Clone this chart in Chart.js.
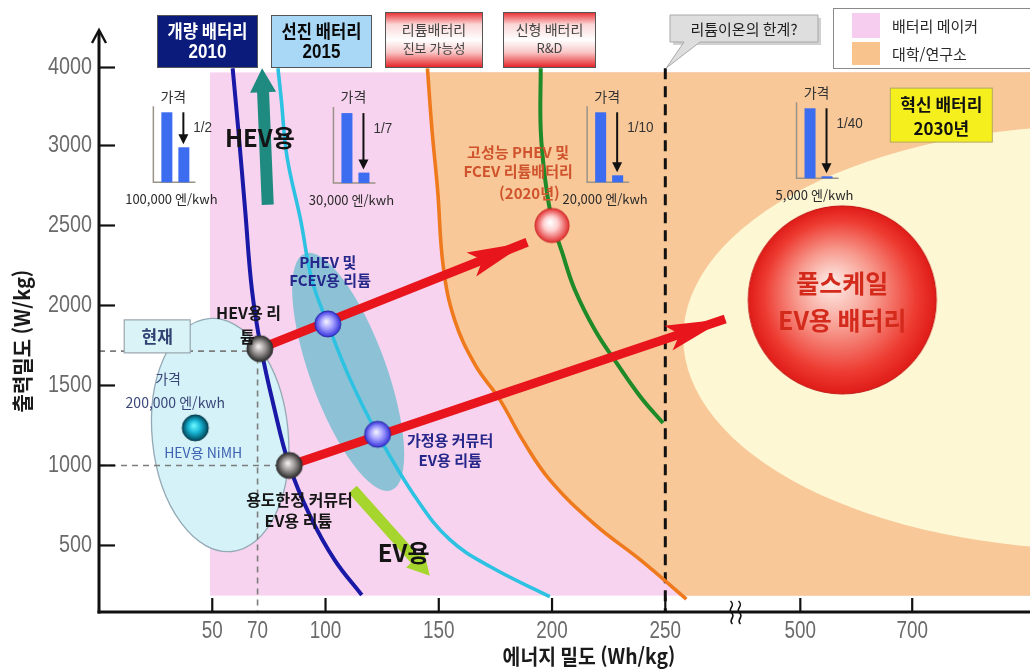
<!DOCTYPE html>
<html lang="ko">
<head>
<meta charset="utf-8">
<title>에너지 밀도 · 출력 밀도 로드맵</title>
<script src="https://cdn.jsdelivr.net/npm/chart.js@4.4.1/dist/chart.umd.min.js"></script>
<style>
  html, body { margin: 0; padding: 0; background: #ffffff; }
  canvas { display: block; }
</style>
</head>
<body>
<canvas id="roadmap" width="1030" height="669"></canvas>
<script>
/* ---------- axes: ticks and broken ranges ---------- */
const X_TICKS = [50, 70, 100, 150, 200, 250, 500, 700];
const X_TICK_MARKS = [50, 100, 150, 200, 250, 500, 700];
const Y_TICKS = [500, 1000, 1500, 2000, 2500, 3000, 4000];
// [real value, axis position] pairs; the axes are compressed past the break
const X_BREAKS = [[0, 0], [250, 250], [500, 309.6], [700, 359]];
const Y_BREAKS = [[0, 0], [3000, 3000], [4000, 3487.5]];
const X_BREAK_AT = 380;
const LIMIT_E = 250;
const X_TITLE = '에너지 밀도 (Wh/kg)';
const Y_TITLE = '출력밀도 (W/kg)';

/* ---------- battery generation curves (Wh/kg, W/kg) ---------- */
const GEN_NAMES = ['개량 배터리 2010', '선진 배터리 2015', '리튬배터리 진보 가능성', '신형 배터리 R&D'];
const GEN2010_E = [59, 61.5, 64.5, 67.5, 71.5, 77, 84, 93, 104, 116];
const GEN2010_P = [3990, 3200, 2600, 2100, 1735, 1380, 1000, 690, 410, 190];
const GEN2015_E = [79, 80.5, 83, 89, 94, 101, 111, 123, 140.5, 155, 173, 199];
const GEN2015_P = [3990, 3580, 2930, 2535, 2160, 1885, 1535, 1195, 785, 535, 365, 180];
const LI_E = [145, 147, 149.5, 152, 157, 166, 177, 187, 199, 219, 239, 289];
const LI_P = [3990, 3200, 2720, 2240, 1910, 1630, 1410, 1160, 910, 630, 410, 165];
const NEW_E = [195, 195, 197, 200, 204.5, 210, 219, 229, 239, 249];
const NEW_P = [3990, 3200, 2785, 2535, 2330, 2100, 1845, 1630, 1430, 1265];

/* ---------- battery cells ---------- */
const CELL_NAMES = ['HEV용 리튬', '용도한정 커뮤터 EV용 리튬', 'PHEV 및 FCEV용 리튬', '가정용 커뮤터 EV용 리튬',
                    'HEV용 NiMH', '고성능 PHEV 및 FCEV 리튬배터리', '풀스케일 EV용 배터리'];
const CELL_E = [71, 84, 101, 123, 42.5, 200, 575];
const CELL_P = [1730, 1000, 1885, 1195, 1235, 2500, 2035];

/* ---------- progress arrows: start cell -> target ---------- */
const PATH_A_E = [71, 189];
const PATH_A_P = [1730, 2395];
const PATH_B_E = [84, 361];
const PATH_B_P = [1000, 1915];
const HEV_TREND_E = [74.5, 72];
const HEV_TREND_P = [2630, 3990];
const EV_TREND_E = [112, 146];
const EV_TREND_P = [850, 310];

/* ---------- reference guides for today's cells ---------- */
const GUIDE_E = [70, 84];
const GUIDE_P = [1715, 1000];

/* ---------- regions ---------- */
const MAKER_ZONE_E = 49;
const ZONE_P = [185, 3940];
const CREAM_CENTER_E = 1036;
const CREAM_CENTER_P = 1800;
const NIMH_CENTER = [53.5, 1190];
const PHEV_CENTER = [110, 1585];
const NOW_TAG = [25.7, 1810];
const TAG_2030 = [752, 3390];

/* ---------- price steps (엔/kWh) ---------- */
const PRICE_NOW = 200000;
const PRICE_NEXT = [100000, 30000, 20000, 5000];
const PRICE_LABELS = ['100,000 엔/kwh', '30,000 엔/kwh', '20,000 엔/kwh', '5,000 엔/kwh'];
const PRICE_RATIOS = ['1/2', '1/7', '1/10', '1/40'];
const PRICE_AT_E = [24, 103.5, 215.5, 493];
const PRICE_AT_P = [2770, 2765, 2770, 2795];

/* ---------- text notes ---------- */
const NOTE_TEXT = ['HEV용', 'HEV용 리', '튬', '가격', '200,000 엔/kwh', 'HEV용 NiMH',
  '용도한정 커뮤터', 'EV용 리튬', 'PHEV 및', 'FCEV용 리튬', '가정용 커뮤터', 'EV용 리튬', 'EV용',
  '고성능 PHEV 및', 'FCEV 리튬배터리', '(2020년)', '풀스케일', 'EV용 배터리'];
const NOTE_E = [71, 66, 65.5, 30.5, 33.7, 46, 88.5, 88, 101, 102, 155, 155, 134.5, 185, 185, 190, 575, 575];
const NOTE_P = [3095, 1955, 1805, 1540, 1395, 1080, 785, 655, 2270, 2155, 1160, 1035, 455, 2960, 2840, 2700, 2140, 1905];
const NOTE_KIND = ['big', 'dark', 'dark', 'slate', 'slate', 'nimh', 'dark', 'dark', 'navy', 'navy', 'navy', 'navy', 'big',
  'rust', 'rust', 'rust', 'red', 'red'];

/* ---------- styles ---------- */
const KR = "'Noto Sans CJK KR', 'Noto Sans CJK JP', sans-serif";
const NUM = "'Liberation Sans', Arial, sans-serif";
const NOTE_STYLE = {
  big:   { font: `bold 24px ${KR}`, color: '#141414' },
  dark:  { font: `bold 16px ${KR}`, color: '#161616' },
  slate: { font: `14px ${KR}`, color: '#3a4679' },
  nimh:  { font: `14px ${KR}`, color: '#3d62b2' },
  navy:  { font: `bold 15px ${KR}`, color: '#25278a' },
  rust:  { font: `bold 15px ${KR}`, color: '#cf532c' },
  red:   { font: `bold 25px ${KR}`, color: '#d42a1c' }
};
const COL = {
  pink: '#f8d3ef', orange: '#f9c898', cream: '#fdf7d4',
  nimh: '#d5f2f8', phev: 'rgba(110,190,206,0.78)',
  arrowRed: '#e8161c', teal: '#1f8a80', lime: '#a6d52e', bar: '#3c6cf0'
};
// plot frame inside the 1030 x 669 canvas
const FRAME = { left: 99, top: 30, right: 0, bottom: 57 };

/* ---------- broken linear scale ---------- */
function toAxis(breaks, v) {
  let i = 1;
  while (i < breaks.length - 1 && v > breaks[i][0]) i++;
  const [a0, b0] = breaks[i - 1], [a1, b1] = breaks[i];
  return b0 + (v - a0) * (b1 - b0) / (a1 - a0);
}
function fromAxis(breaks, u) {
  let i = 1;
  while (i < breaks.length - 1 && u > breaks[i][1]) i++;
  const [a0, b0] = breaks[i - 1], [a1, b1] = breaks[i];
  return a0 + (u - b0) * (a1 - a0) / (b1 - b0);
}
class BrokenScale extends Chart.LinearScale {
  static id = 'broken';
  static defaults = Chart.LinearScale.defaults;
  _breaks() { return this.axis === 'x' ? X_BREAKS : Y_BREAKS; }
  getPixelForValue(value) { return super.getPixelForValue(toAxis(this._breaks(), value)); }
  getValueForPixel(pixel) { return fromAxis(this._breaks(), super.getValueForPixel(pixel)); }
}
Chart.register(BrokenScale);

/* ---------- shaded balls used as point styles ---------- */
function ball(r, stops, edge) {
  const s = Math.ceil(2 * r + 4), c = document.createElement('canvas');
  c.width = c.height = s;
  const g = c.getContext('2d'), cx = s / 2, cy = s / 2;
  const grad = g.createRadialGradient(cx - r * 0.12, cy - r * 0.18, r * 0.04, cx, cy, r);
  stops.forEach(([o, col]) => grad.addColorStop(o, col));
  g.fillStyle = grad;
  g.beginPath(); g.arc(cx, cy, r, 0, Math.PI * 2); g.fill();
  if (edge) { g.strokeStyle = edge; g.lineWidth = 1; g.stroke(); }
  return c;
}
const BALL_GRAY = ball(13, [[0, '#f2eeee'], [0.45, '#a09a9a'], [1, '#2a2a2a']], '#333');
const BALL_VIOLET = ball(13, [[0, '#f2f0ff'], [0.45, '#a6a2ff'], [1, '#3632dc']], '#2a2aa0');
const BALL_TEAL = ball(13, [[0, '#6af6ff'], [0.45, '#1ab8d8'], [1, '#00465a']], '#003848');
const BALL_PINK = ball(17, [[0, '#ffffff'], [0.4, '#ffd0d0'], [1, '#e23030']], '#c82828');
const BALL_RED = ball(94, [[0, '#fde8e2'], [0.4, '#f89a8e'], [0.8, '#ee3c32'], [1, '#e01c18']], '#c01010');
const CELL_STYLE = [BALL_GRAY, BALL_GRAY, BALL_VIOLET, BALL_VIOLET, BALL_TEAL, BALL_PINK, BALL_RED];
const CELL_RADIUS = [13, 13, 13, 13, 13, 17, 94];

const zip = (xs, ys) => xs.map((x, i) => ({ x, y: ys[i] }));

/* ---------- drawing helpers ---------- */
function fatArrow(ctx, x1, y1, x2, y2, shaft, headLen, headHalf, color) {
  const a = Math.atan2(y2 - y1, x2 - x1), len = Math.hypot(x2 - x1, y2 - y1);
  ctx.save();
  ctx.translate(x1, y1); ctx.rotate(a);
  ctx.fillStyle = color;
  ctx.beginPath();
  ctx.moveTo(0, -shaft / 2); ctx.lineTo(len - headLen, -shaft / 2); ctx.lineTo(len - headLen, -headHalf);
  ctx.lineTo(len, 0);
  ctx.lineTo(len - headLen, headHalf); ctx.lineTo(len - headLen, shaft / 2); ctx.lineTo(0, shaft / 2);
  ctx.closePath(); ctx.fill();
  ctx.restore();
}
function notchedHead(ctx, xs, ys, xt, yt, len, half, notch, color) {
  const a = Math.atan2(yt - ys, xt - xs);
  ctx.save();
  ctx.translate(xt, yt); ctx.rotate(a);
  ctx.fillStyle = color;
  ctx.beginPath();
  ctx.moveTo(0, 0); ctx.lineTo(-len, -half); ctx.lineTo(-len + notch, 0); ctx.lineTo(-len, half);
  ctx.closePath(); ctx.fill();
  ctx.restore();
}
function text(ctx, s, x, y, font, color, align, squeeze) {
  ctx.save();
  ctx.font = font; ctx.fillStyle = color;
  ctx.textAlign = align || 'center'; ctx.textBaseline = 'middle';
  ctx.translate(x, y);
  if (squeeze) ctx.scale(squeeze, 1);
  ctx.fillText(s, 0, 0);
  ctx.restore();
}

/* ---------- plugin: regions, guides, notes, frame ---------- */
const roadmapPlugin = {
  id: 'roadmap',
  beforeDatasetsDraw(chart) {
    const { ctx, chartArea: ca, scales: { x, y } } = chart;
    const X = v => x.getPixelForValue(v), Y = v => y.getPixelForValue(v);
    const zl = X(MAKER_ZONE_E), zt = Y(ZONE_P[1]), zb = Y(ZONE_P[0]);

    ctx.save();
    ctx.beginPath(); ctx.rect(zl, zt, ca.right - zl, zb - zt); ctx.clip();
    // battery makers
    ctx.fillStyle = COL.pink;
    ctx.fillRect(zl, zt, ca.right - zl, zb - zt);
    // universities / institutes: right of the lithium curve
    const li = chart.getDatasetMeta(chart.data.datasets.findIndex(d => d.zoneEdge));
    const line = li.dataset, pts = li.data;
    ctx.beginPath();
    let ok = false;
    try {
      if (line.updateControlPoints) line.updateControlPoints(ca, 'x');
      line.path(ctx); ok = true;
    } catch (e) { ok = false; }
    if (!ok) { ctx.beginPath(); pts.forEach((p, i) => i ? ctx.lineTo(p.x, p.y) : ctx.moveTo(p.x, p.y)); }
    const last = pts[pts.length - 1], first = pts[0];
    ctx.lineTo(ca.right + 20, last.y + 20);
    ctx.lineTo(ca.right + 20, first.y - 20);
    ctx.lineTo(first.x, first.y - 20);
    ctx.closePath();
    ctx.fillStyle = COL.orange; ctx.fill();
    // innovation zone
    ctx.beginPath();
    ctx.ellipse(X(CREAM_CENTER_E), Y(CREAM_CENTER_P), 417, 212, 0, 0, Math.PI * 2);
    ctx.fillStyle = COL.cream; ctx.fill();
    ctx.restore();

    // NiMH cloud
    ctx.save();
    ctx.beginPath();
    ctx.ellipse(X(NIMH_CENTER[0]), Y(NIMH_CENTER[1]), 68, 117, -0.1, 0, Math.PI * 2);
    ctx.fillStyle = COL.nimh; ctx.fill();
    ctx.strokeStyle = '#93a9b6'; ctx.lineWidth = 1.3; ctx.stroke();
    // PHEV / FCEV cloud
    ctx.beginPath();
    ctx.ellipse(X(PHEV_CENTER[0]), Y(PHEV_CENTER[1]), 38, 126, -0.35, 0, Math.PI * 2);
    ctx.fillStyle = COL.phev; ctx.fill();
    ctx.restore();

    // guides to today's cells
    ctx.save();
    ctx.strokeStyle = '#7d7d7d'; ctx.lineWidth = 1.6; ctx.setLineDash([6, 5]);
    ctx.beginPath();
    ctx.moveTo(ca.left, Y(GUIDE_P[0])); ctx.lineTo(X(GUIDE_E[0]), Y(GUIDE_P[0]));
    ctx.lineTo(X(GUIDE_E[0]), ca.bottom);
    ctx.moveTo(ca.left, Y(GUIDE_P[1])); ctx.lineTo(X(GUIDE_E[1]), Y(GUIDE_P[1]));
    ctx.stroke();
    // lithium-ion limit
    ctx.strokeStyle = '#111'; ctx.lineWidth = 3; ctx.setLineDash([11, 7]);
    ctx.beginPath(); ctx.moveTo(X(LIMIT_E), Y(3990)); ctx.lineTo(X(LIMIT_E), ca.bottom); ctx.stroke();
    ctx.restore();

    // "현재" tag
    const hx = X(NOW_TAG[0]), hy = Y(NOW_TAG[1]);
    ctx.save();
    ctx.fillStyle = '#d9f3f6'; ctx.strokeStyle = '#9aa6ae'; ctx.lineWidth = 1.2;
    ctx.fillRect(hx - 33, hy - 16, 66, 33); ctx.strokeRect(hx - 33, hy - 16, 66, 33);
    ctx.restore();
    text(ctx, '현재', hx, hy + 1, `bold 17px ${KR}`, '#2f4373');

    // trend arrows
    fatArrow(ctx, X(HEV_TREND_E[0]), Y(HEV_TREND_P[0]), X(HEV_TREND_E[1]), Y(HEV_TREND_P[1]), 12, 24, 13, COL.teal);
    fatArrow(ctx, X(EV_TREND_E[0]), Y(EV_TREND_P[0]), X(EV_TREND_E[1]), Y(EV_TREND_P[1]), 11, 22, 12, COL.lime);
  },

  afterDatasetDraw(chart, args) {
    const ds = chart.data.datasets[args.index];
    if (!ds.arrowHead) return;
    const p = args.meta.data;
    notchedHead(chart.ctx, p[0].x, p[0].y, p[1].x, p[1].y, 60, 13, 12, COL.arrowRed);
  },

  afterDatasetsDraw(chart) {
    const { ctx, scales: { x, y } } = chart;
    const X = v => x.getPixelForValue(v), Y = v => y.getPixelForValue(v);
    ctx.save();

    // price steps
    PRICE_NEXT.forEach((price, i) => {
      const x0 = X(PRICE_AT_E[i]), y0 = Y(PRICE_AT_P[i]), H = 70;
      const h1 = H, h2 = Math.max(2, H * price / PRICE_NOW);
      text(ctx, '가격', x0 + 20, y0 - 86, `14px ${KR}`, '#333');
      ctx.strokeStyle = '#9a9488'; ctx.lineWidth = 1.5;
      ctx.beginPath(); ctx.moveTo(x0, y0 - 76); ctx.lineTo(x0, y0); ctx.lineTo(x0 + 42, y0); ctx.stroke();
      ctx.fillStyle = COL.bar;
      ctx.fillRect(x0 + 8, y0 - h1, 11, h1);
      ctx.fillRect(x0 + 25, y0 - h2, 11, h2);
      // downward arrow between the two prices
      const ax = x0 + 30, ay1 = y0 - H, ay2 = y0 - h2 - 3;
      ctx.strokeStyle = '#111'; ctx.lineWidth = 2;
      ctx.beginPath(); ctx.moveTo(ax, ay1); ctx.lineTo(ax, ay2 - 8); ctx.stroke();
      ctx.fillStyle = '#111';
      ctx.beginPath(); ctx.moveTo(ax - 5, ay2 - 10); ctx.lineTo(ax + 5, ay2 - 10); ctx.lineTo(ax, ay2); ctx.closePath(); ctx.fill();
      text(ctx, PRICE_RATIOS[i], x0 + 40, y0 - 54, `15px ${NUM}`, '#333', 'left', 0.9);
      text(ctx, PRICE_LABELS[i], x0 + 18, y0 + 17, `13px ${KR}`, '#2a2a2a');
    });

    // 2030 tag
    const bx = X(TAG_2030[0]), by = Y(TAG_2030[1]);
    ctx.fillStyle = '#f6ef1e'; ctx.strokeStyle = '#b0a860'; ctx.lineWidth = 1;
    ctx.fillRect(bx - 51, by - 27, 102, 54); ctx.strokeRect(bx - 51, by - 27, 102, 54);
    text(ctx, '혁신 배터리', bx, by - 11, `bold 17px ${KR}`, '#111');
    text(ctx, '2030년', bx, by + 13, `bold 17px ${KR}`, '#111');

    // notes
    NOTE_TEXT.forEach((s, i) => {
      const st = NOTE_STYLE[NOTE_KIND[i]];
      text(ctx, s, X(NOTE_E[i]), Y(NOTE_P[i]), st.font, st.color);
    });
    ctx.restore();
  },

  afterDraw(chart) {
    const { ctx, chartArea: ca, scales: { x, y } } = chart;
    const X = v => x.getPixelForValue(v), Y = v => y.getPixelForValue(v);
    ctx.save();
    ctx.strokeStyle = '#111'; ctx.lineCap = 'butt';

    // axes
    ctx.lineWidth = 3;
    ctx.beginPath(); ctx.moveTo(ca.left - 1.5, ca.bottom); ctx.lineTo(chart.width, ca.bottom); ctx.stroke();
    ctx.beginPath(); ctx.moveTo(ca.left, ca.bottom + 1.5); ctx.lineTo(ca.left, ca.top + 1); ctx.stroke();
    ctx.lineWidth = 2.4;
    ctx.beginPath(); ctx.moveTo(ca.left - 7, ca.top + 13); ctx.lineTo(ca.left, ca.top); ctx.lineTo(ca.left + 7, ca.top + 13); ctx.stroke();
    // inward tick marks
    ctx.lineWidth = 2.2;
    X_TICK_MARKS.forEach(v => { ctx.beginPath(); ctx.moveTo(X(v), ca.bottom); ctx.lineTo(X(v), ca.bottom - 14); ctx.stroke(); });
    Y_TICKS.forEach(v => { ctx.beginPath(); ctx.moveTo(ca.left, Y(v)); ctx.lineTo(ca.left + 16, Y(v)); ctx.stroke(); });
    // break mark
    ctx.lineWidth = 1.6;
    [-4, 4].forEach(d => {
      const bx = X(X_BREAK_AT) + d, t = ca.bottom - 11;
      ctx.beginPath(); ctx.moveTo(bx - 1, t);
      ctx.bezierCurveTo(bx + 5, t + 5, bx - 5, t + 8, bx, t + 12);
      ctx.bezierCurveTo(bx + 5, t + 16, bx - 4, t + 19, bx + 1, t + 23);
      ctx.stroke();
    });

    // tick labels
    X_TICKS.forEach(v => text(ctx, String(v), X(v), ca.bottom + 20, `23px ${NUM}`, '#6a6a6a', 'center', 0.82));
    Y_TICKS.forEach(v => text(ctx, String(v), ca.left - 7, Y(v), `23px ${NUM}`, '#6a6a6a', 'right', 0.86));

    // axis titles
    text(ctx, X_TITLE, 589, 656, `bold 21px ${KR}`, '#1a1a1a', 'center', 0.92);
    ctx.save();
    ctx.translate(22, 341); ctx.rotate(-Math.PI / 2);
    text(ctx, Y_TITLE, 0, 0, `bold 21px ${KR}`, '#1a1a1a', 'center', 0.95);
    ctx.restore();

    // generation headers
    const heads = [
      { x: 157, w: 101, t: ['개량 배터리', '2010'], fill: '#0b1b7b', col: '#ffffff', bold: true },
      { x: 271, w: 101, t: ['선진 배터리', '2015'], fill: '#a9d8f7', col: '#0a0a0a', bold: true },
      { x: 385, w: 98, t: ['리튬배터리', '진보 가능성'], fill: 'grad', col: '#444', bold: false },
      { x: 503, w: 93, t: ['신형 배터리', 'R&D'], fill: 'grad', col: '#444', bold: false }
    ];
    heads.forEach(h => {
      const top = h.fill === 'grad' ? 12 : 15, bot = 68;
      if (h.fill === 'grad') {
        const g = ctx.createLinearGradient(0, top, 0, bot);
        g.addColorStop(0, '#e8262a'); g.addColorStop(0.22, '#fbd6d6'); g.addColorStop(0.5, '#ffffff');
        g.addColorStop(0.72, '#f9c6c6'); g.addColorStop(1, '#e41c20');
        ctx.fillStyle = g;
      } else ctx.fillStyle = h.fill;
      ctx.fillRect(h.x, top, h.w, bot - top);
      ctx.strokeStyle = '#555'; ctx.lineWidth = 1;
      ctx.strokeRect(h.x + 0.5, top + 0.5, h.w - 1, bot - top - 1);
      if (h.bold) {
        text(ctx, h.t[0], h.x + h.w / 2, 31, `bold 18px ${KR}`, h.col, 'center', 0.92);
        text(ctx, h.t[1], h.x + h.w / 2, 52, `bold 20px ${NUM}`, h.col, 'center', 0.85);
      } else {
        text(ctx, h.t[0], h.x + h.w / 2, 30, `14px ${KR}`, h.col);
        text(ctx, h.t[1], h.x + h.w / 2, 48, `13px ${KR}`, h.col);
      }
    });

    // limit callout
    ctx.fillStyle = 'rgba(0,0,0,0.18)';
    ctx.fillRect(673, 18, 148, 27);
    ctx.fillStyle = '#dedede'; ctx.strokeStyle = '#a8a8a8'; ctx.lineWidth = 1;
    ctx.beginPath();
    ctx.moveTo(670, 15); ctx.lineTo(818, 15); ctx.lineTo(818, 42); ctx.lineTo(700, 42);
    ctx.lineTo(X(LIMIT_E) + 1, 68); ctx.lineTo(684, 42); ctx.lineTo(670, 42); ctx.closePath();
    ctx.fill(); ctx.stroke();
    text(ctx, '리튬이온의 한계?', 744, 29, `15px ${KR}`, '#1e1e1e');

    // legend
    ctx.fillStyle = '#ffffff'; ctx.strokeStyle = '#8a8a8a'; ctx.lineWidth = 1;
    ctx.fillRect(833, 8, 200, 60); ctx.strokeRect(833.5, 8.5, 200, 60);
    ctx.fillStyle = '#f6cdee'; ctx.fillRect(852, 13, 28, 25);
    ctx.fillStyle = '#f9c38e'; ctx.fillRect(852, 42, 28, 23);
    text(ctx, '배터리 메이커', 892, 26, `15px ${KR}`, '#2a2a2a', 'left');
    text(ctx, '대학/연구소', 892, 54, `15px ${KR}`, '#2a2a2a', 'left');
    ctx.restore();
  }
};

/* ---------- chart ---------- */
const curve = (label, xs, ys, color, width, extra) => Object.assign({
  type: 'line', label, data: zip(xs, ys), borderColor: color, borderWidth: width,
  tension: 0.4, pointRadius: 0, fill: false, order: 2
}, extra || {});

new Chart(document.getElementById('roadmap'), {
  type: 'line',
  data: {
    datasets: [
      {
        label: '배터리',
        data: zip(CELL_E, CELL_P),
        showLine: false,
        pointStyle: CELL_STYLE,
        pointRadius: CELL_RADIUS,
        clip: false,
        order: 0
      },
      { label: 'HEV용 리튬 → 고성능 PHEV 및 FCEV', data: zip(PATH_A_E, PATH_A_P), borderColor: COL.arrowRed,
        borderWidth: 9, pointRadius: 0, tension: 0, borderCapStyle: 'butt', order: 1, arrowHead: true },
      { label: '용도한정 커뮤터 → 풀스케일 EV', data: zip(PATH_B_E, PATH_B_P), borderColor: COL.arrowRed,
        borderWidth: 9, pointRadius: 0, tension: 0, borderCapStyle: 'butt', order: 1, arrowHead: true },
      curve(GEN_NAMES[0], GEN2010_E, GEN2010_P, '#1a18a6', 4),
      curve(GEN_NAMES[1], GEN2015_E, GEN2015_P, '#2ec2e2', 3.6),
      curve(GEN_NAMES[2], LI_E, LI_P, '#ef7a1e', 3.6, { zoneEdge: true }),
      curve(GEN_NAMES[3], NEW_E, NEW_P, '#1e8a28', 4)
    ]
  },
  options: {
    responsive: false,
    animation: false,
    events: [],
    layout: { padding: FRAME, autoPadding: false },
    plugins: { legend: { display: false }, tooltip: { enabled: false }, title: { display: false } },
    scales: {
      x: { type: 'broken', display: false, min: 0, max: 411, bounds: 'data' },
      y: { type: 'broken', display: false, min: 84, max: 3722, bounds: 'data' }
    }
  },
  plugins: [roadmapPlugin]
});
</script>
</body>
</html>
